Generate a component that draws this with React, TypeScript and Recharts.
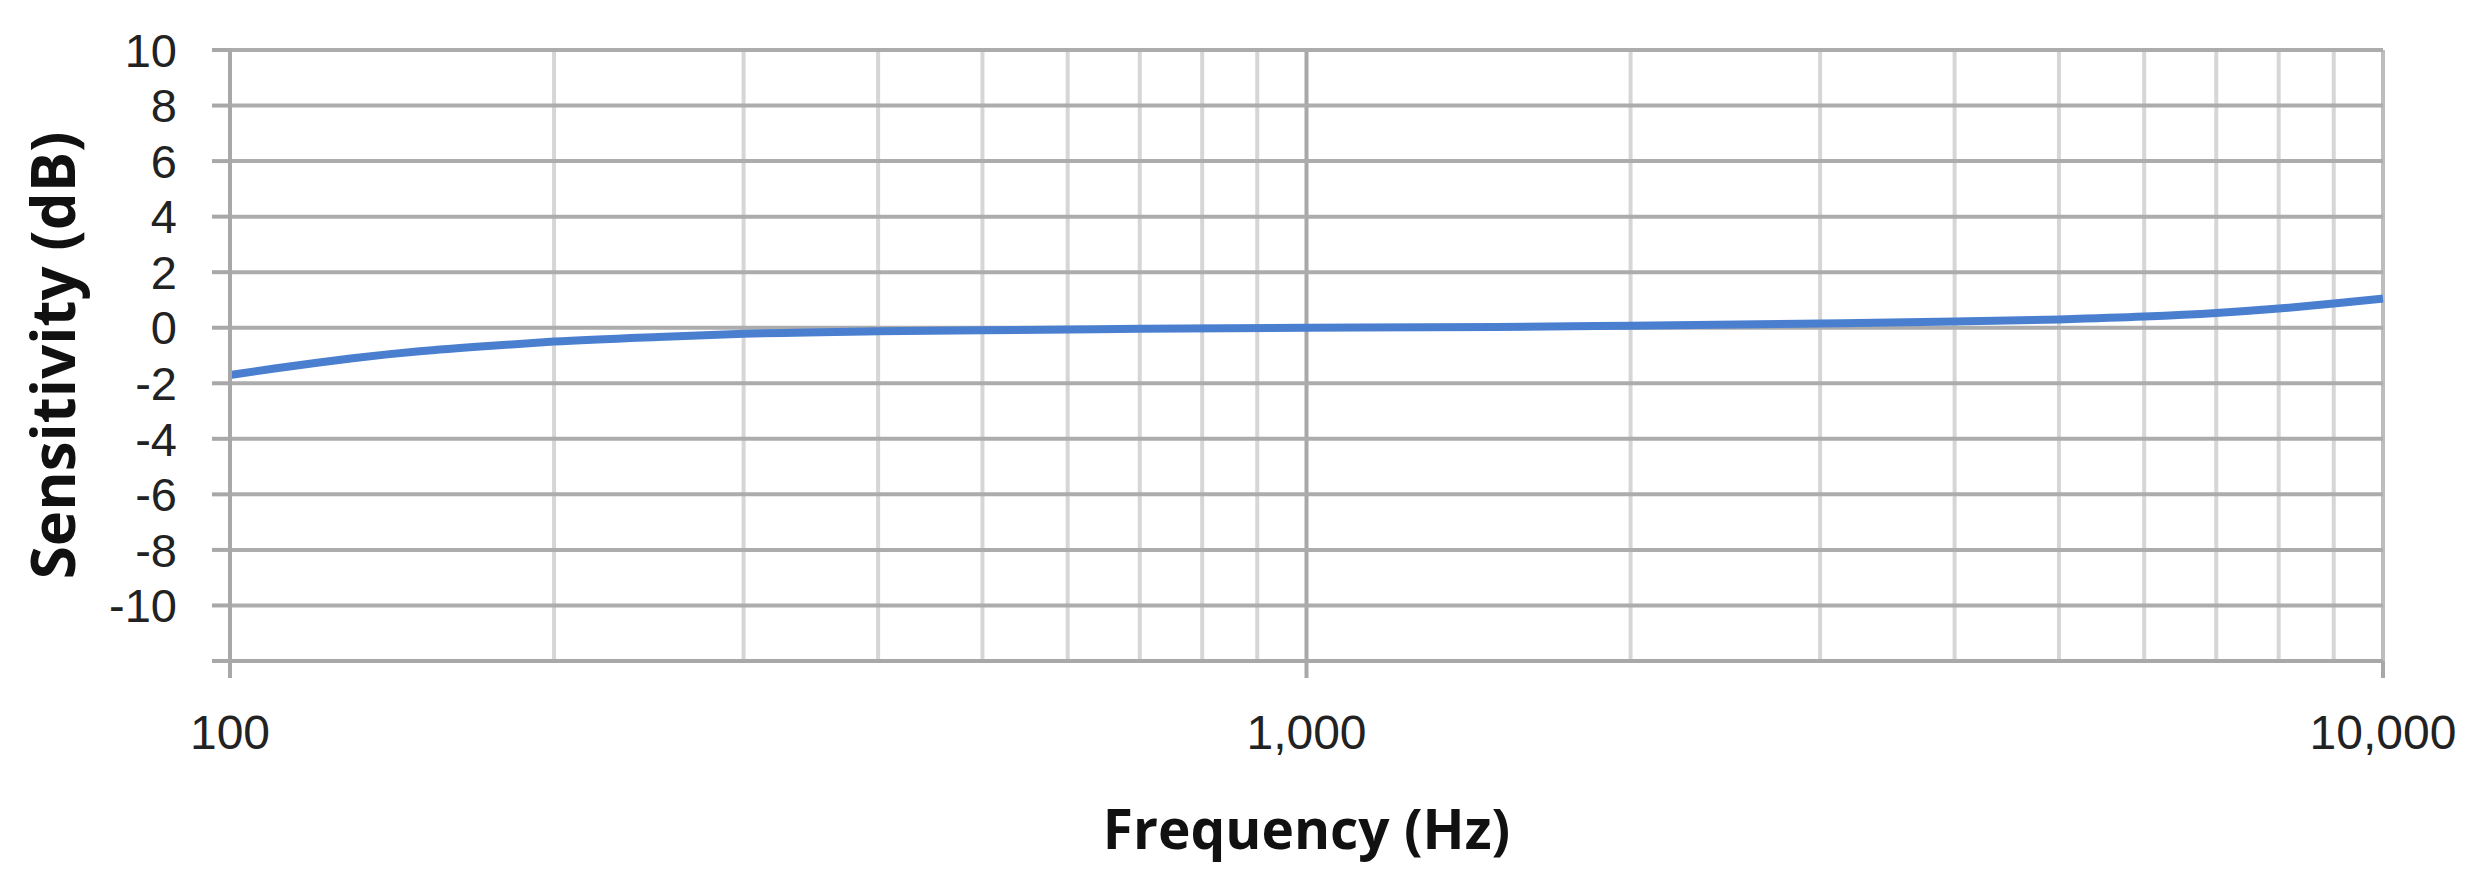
import { LineChart, Line, XAxis, YAxis, ReferenceLine, Label } from 'recharts';

// frequency response
const frequencies = [100, 110, 120, 130, 140, 150, 175, 200, 250, 300, 400, 500, 700, 1000, 1500, 2000, 3000, 4000, 5000, 6000, 7000, 8000, 9000, 10000];
const sensitivity = [-1.7, -1.47, -1.27, -1.1, -0.96, -0.85, -0.65, -0.5, -0.33, -0.22, -0.13, -0.09, -0.04, 0, 0.03, 0.07, 0.15, 0.22, 0.3, 0.4, 0.53, 0.69, 0.87, 1.05];

const minorFreqs = [200, 300, 400, 500, 600, 700, 800, 900, 2000, 3000, 4000, 5000, 6000, 7000, 8000, 9000];
const majorFreqs = [100, 1000, 10000];
const yTicks = [-12, -10, -8, -6, -4, -2, 0, 2, 4, 6, 8, 10];

const data = frequencies.map((f, i) => ({ freq: f, db: sensitivity[i] }));

const titleFont = '"Open Sans", sans-serif';
const tickFont = '"Liberation Sans", Arial, sans-serif';
const axisGray = '#a8a8a8';

export default function App() {
  return (
    <div style={{ position: 'absolute', left: 0, top: 0, background: '#fff' }}>
      <LineChart width={2481} height={872} data={data} margin={{ top: 50, right: 98, left: 0, bottom: 0 }}>
        {minorFreqs.map((f) => (
          <ReferenceLine key={'v' + f} x={f} stroke="#d6d6d6" strokeWidth={4} />
        ))}
        <ReferenceLine x={1000} stroke={axisGray} strokeWidth={4} />
        <ReferenceLine x={10000} stroke="#bdbdbd" strokeWidth={4} />
        {yTicks.slice(1).map((v) => (
          <ReferenceLine key={'h' + v} y={v} stroke="#acacac" strokeWidth={4} />
        ))}
        <XAxis
          dataKey="freq"
          type="number"
          scale="log"
          domain={[100, 10000]}
          ticks={majorFreqs}
          tickFormatter={(v: number) => v.toLocaleString('en-US')}
          height={211}
          tickSize={17}
          tickMargin={37}
          axisLine={{ stroke: axisGray, strokeWidth: 4 }}
          tickLine={{ stroke: axisGray, strokeWidth: 4 }}
          tick={{ fill: '#222', fontSize: 48, fontFamily: tickFont }}
        >
          <Label
            content={(props: any) => {
              const { x, y, width } = props.viewBox;
              return (
                <text x={x + width / 2} y={y + 166} textAnchor="middle" dominantBaseline="central"
                  fontFamily={titleFont} fontSize={55} fontWeight="bold" fill="#111">
                  Frequency (Hz)
                </text>
              );
            }}
          />
        </XAxis>
        <YAxis
          type="number"
          domain={[-12, 10]}
          ticks={yTicks}
          interval={0}
          tickFormatter={(v: number) => (v === -12 ? '' : String(v))}
          width={230}
          tickSize={18}
          tickMargin={35}
          axisLine={{ stroke: axisGray, strokeWidth: 4 }}
          tickLine={{ stroke: axisGray, strokeWidth: 4 }}
          tick={{ fill: '#222', fontSize: 47, fontFamily: tickFont }}
        >
          <Label
            content={(props: any) => {
              const { x, y, height } = props.viewBox;
              const cx = x + 52;
              const cy = y + height / 2;
              return (
                <g transform={`translate(${cx}, ${cy}) rotate(-90)`}>
                  <text x={0} y={0} textAnchor="middle" dominantBaseline="central"
                    fontFamily={titleFont} fontSize={60} fontWeight="bold" fill="#111">
                    Sensitivity (dB)
                  </text>
                </g>
              );
            }}
          />
        </YAxis>
        <Line dataKey="db" type="monotone" stroke="#4a7fd0" strokeWidth={8} dot={false} isAnimationActive={false} />
      </LineChart>
    </div>
  );
}
